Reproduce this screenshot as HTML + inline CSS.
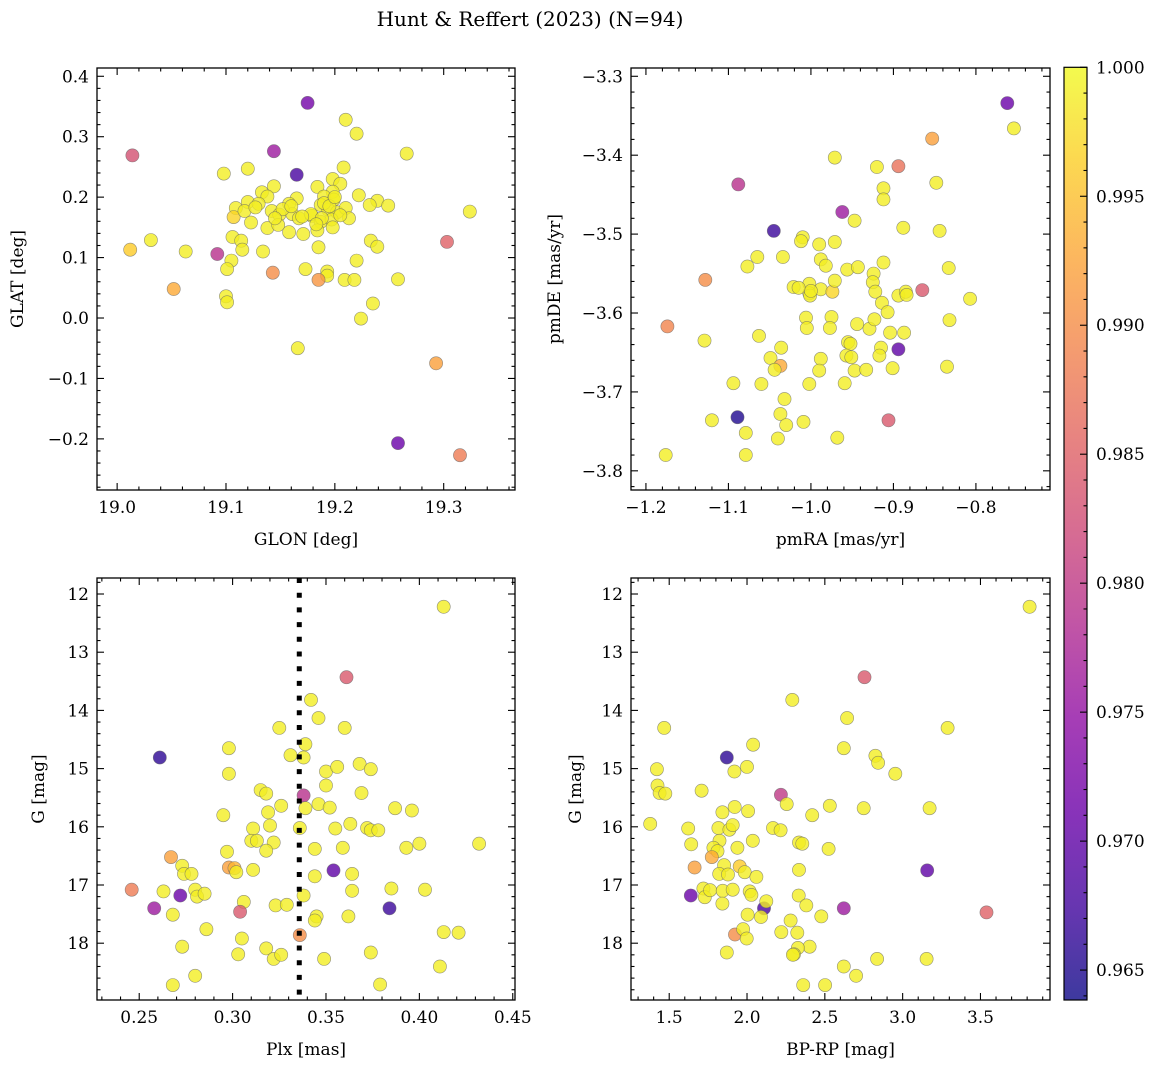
<!DOCTYPE html>
<html><head><meta charset="utf-8"><style>
html,body{margin:0;padding:0;background:#fff;}
svg{display:block;font-family:"DejaVu Serif","Liberation Serif",serif;}
</style></head><body>
<svg id="fig" width="1161" height="1067" viewBox="0 0 1161 1067" xmlns="http://www.w3.org/2000/svg">
<defs>
<linearGradient id="plasmaGrad" x1="0" y1="1" x2="0" y2="0">
<stop offset="0" stop-color="#0d0887"/><stop offset="0.1" stop-color="#41049d"/><stop offset="0.2" stop-color="#6a00a8"/><stop offset="0.3" stop-color="#8f0da4"/><stop offset="0.4" stop-color="#b12a90"/><stop offset="0.5" stop-color="#cc4778"/><stop offset="0.6" stop-color="#e16462"/><stop offset="0.7" stop-color="#f2844b"/><stop offset="0.8" stop-color="#fca636"/><stop offset="0.9" stop-color="#fcce25"/><stop offset="1" stop-color="#f0f921"/>
</linearGradient>
</defs>
<text x="530" y="26" font-size="20" text-anchor="middle">Hunt &amp; Reffert (2023) (N=94)</text>
</svg>
<script>
// ---- Panel 1: GLON / GLAT ----
const glon = [19.175,19.210,19.220,19.266,19.014,19.144,19.165,19.098,19.120,19.208,19.198,19.205,19.184,19.144,19.133,19.138,19.222,19.198,19.190,19.165,19.239,19.232,19.249,19.324,19.120,19.109,19.130,19.158,19.142,19.149,19.161,19.167,19.187,19.199,19.194,19.202,19.210,19.213,19.179,19.187,19.197,19.107,19.117,19.123,19.138,19.148,19.158,19.171,19.184,19.198,19.106,19.114,19.115,19.031,19.012,19.063,19.092,19.134,19.185,19.233,19.239,19.303,19.105,19.101,19.220,19.143,19.173,19.193,19.193,19.185,19.209,19.218,19.258,19.052,19.100,19.101,19.235,19.224,19.166,19.293,19.258,19.315,19.190,19.195,19.178,19.170,19.152,19.205,19.188,19.160,19.200,19.127,19.145,19.183];
const glat = [0.356,0.328,0.305,0.272,0.269,0.276,0.237,0.239,0.247,0.249,0.230,0.222,0.217,0.218,0.208,0.201,0.203,0.209,0.201,0.198,0.194,0.187,0.186,0.176,0.192,0.182,0.189,0.189,0.177,0.171,0.172,0.165,0.187,0.196,0.179,0.175,0.182,0.165,0.169,0.159,0.163,0.167,0.177,0.158,0.149,0.154,0.142,0.139,0.145,0.150,0.134,0.128,0.113,0.129,0.113,0.110,0.106,0.110,0.117,0.128,0.118,0.126,0.095,0.081,0.095,0.075,0.081,0.077,0.070,0.063,0.063,0.063,0.064,0.048,0.036,0.026,0.024,-0.001,-0.050,-0.075,-0.207,-0.227,0.190,0.185,0.172,0.168,0.180,0.170,0.165,0.185,0.200,0.183,0.165,0.155];
const prob1 = [0.972,0.999,0.999,0.999,0.983,0.976,0.968,0.999,0.999,0.999,0.999,0.999,0.999,0.999,0.999,0.999,0.999,0.999,0.999,0.999,0.999,0.999,0.999,0.999,0.999,0.999,0.999,0.999,0.999,0.999,0.999,0.999,0.999,0.999,0.999,0.999,0.999,0.999,0.999,0.999,0.999,0.997,0.999,0.999,0.999,0.999,0.999,0.999,0.999,0.999,0.999,0.999,0.999,0.999,0.996,0.999,0.979,0.999,0.999,0.999,0.999,0.985,0.999,0.999,0.999,0.990,0.999,0.999,0.999,0.991,0.999,0.999,0.999,0.993,0.999,0.999,0.999,0.999,0.999,0.992,0.971,0.988,0.999,0.999,0.999,0.999,0.999,0.999,0.999,0.999,0.999,0.999,0.999,0.999];
// ---- Panel 2: pmRA / pmDE ----
const pmra = [-0.762,-0.754,-0.853,-0.971,-0.920,-0.894,-0.848,-1.088,-0.912,-0.912,-0.962,-0.947,-0.888,-0.844,-1.045,-1.010,-1.012,-0.990,-0.971,-1.065,-1.077,-1.034,-0.988,-0.982,-0.956,-0.943,-0.912,-0.833,-1.128,-1.021,-1.002,-1.002,-1.001,-0.988,-0.974,-0.971,-0.924,-0.925,-0.922,-0.894,-0.885,-0.884,-0.865,-0.807,-0.914,-0.907,-1.174,-1.129,-1.063,-1.006,-1.005,-0.975,-0.977,-0.944,-0.929,-0.923,-0.904,-0.887,-0.832,-1.036,-1.049,-1.037,-1.044,-0.988,-0.990,-0.955,-0.952,-0.957,-0.951,-0.947,-0.933,-0.915,-0.917,-0.894,-0.901,-0.835,-1.094,-1.060,-1.002,-0.959,-1.032,-1.037,-1.030,-1.009,-1.089,-1.120,-0.906,-1.079,-1.040,-0.968,-1.176,-1.079,-1.000,-1.015];
const pmde = [-3.334,-3.366,-3.379,-3.403,-3.415,-3.414,-3.435,-3.437,-3.442,-3.456,-3.472,-3.483,-3.492,-3.496,-3.496,-3.504,-3.509,-3.513,-3.510,-3.529,-3.541,-3.529,-3.532,-3.540,-3.545,-3.542,-3.536,-3.543,-3.558,-3.567,-3.563,-3.575,-3.578,-3.570,-3.573,-3.559,-3.550,-3.561,-3.573,-3.578,-3.573,-3.577,-3.571,-3.582,-3.587,-3.599,-3.617,-3.635,-3.629,-3.606,-3.619,-3.605,-3.619,-3.614,-3.620,-3.608,-3.625,-3.625,-3.609,-3.644,-3.657,-3.667,-3.672,-3.658,-3.673,-3.637,-3.639,-3.654,-3.656,-3.673,-3.672,-3.644,-3.654,-3.646,-3.670,-3.668,-3.689,-3.690,-3.690,-3.689,-3.709,-3.728,-3.742,-3.738,-3.732,-3.736,-3.736,-3.752,-3.759,-3.758,-3.780,-3.780,-3.572,-3.568];
const prob2 = [0.971,0.999,0.992,0.999,0.999,0.987,0.999,0.979,0.999,0.999,0.976,0.999,0.999,0.999,0.967,0.999,0.999,0.999,0.999,0.999,0.999,0.999,0.999,0.999,0.999,0.999,0.999,0.999,0.990,0.999,0.999,0.999,0.999,0.999,0.997,0.999,0.999,0.999,0.999,0.999,0.999,0.999,0.984,0.999,0.999,0.999,0.989,0.999,0.999,0.999,0.999,0.999,0.999,0.999,0.999,0.999,0.999,0.999,0.999,0.999,0.999,0.993,0.999,0.999,0.999,0.999,0.999,0.999,0.999,0.999,0.999,0.999,0.999,0.970,0.999,0.999,0.999,0.999,0.999,0.999,0.999,0.999,0.999,0.999,0.965,0.999,0.984,0.999,0.999,0.999,0.999,0.999,0.999,0.999];
// ---- Panel 3: Plx / G ----
const plx = [0.413,0.361,0.342,0.346,0.325,0.360,0.339,0.298,0.331,0.338,0.261,0.350,0.356,0.368,0.374,0.298,0.350,0.315,0.318,0.338,0.369,0.326,0.339,0.346,0.352,0.387,0.396,0.295,0.319,0.320,0.311,0.336,0.355,0.363,0.372,0.374,0.378,0.310,0.313,0.322,0.318,0.297,0.344,0.359,0.393,0.400,0.432,0.267,0.273,0.274,0.278,0.298,0.301,0.302,0.311,0.344,0.354,0.364,0.246,0.263,0.272,0.280,0.281,0.285,0.338,0.364,0.385,0.403,0.258,0.268,0.306,0.304,0.323,0.329,0.345,0.344,0.362,0.384,0.286,0.336,0.413,0.421,0.273,0.305,0.318,0.322,0.326,0.303,0.349,0.374,0.411,0.280,0.268,0.379];
const gmag3 = [12.22,13.43,13.82,14.13,14.30,14.30,14.58,14.65,14.77,14.81,14.81,15.05,14.97,14.92,15.01,15.09,15.29,15.37,15.43,15.46,15.42,15.64,15.68,15.61,15.67,15.68,15.72,15.80,15.75,15.98,16.03,16.02,16.03,15.95,16.02,16.06,16.06,16.24,16.24,16.27,16.41,16.43,16.38,16.36,16.36,16.29,16.29,16.52,16.67,16.81,16.81,16.70,16.71,16.78,16.74,16.85,16.75,16.81,17.08,17.11,17.18,17.08,17.20,17.15,17.18,17.10,17.06,17.08,17.40,17.51,17.29,17.46,17.35,17.34,17.54,17.61,17.54,17.40,17.76,17.86,17.81,17.82,18.06,17.92,18.09,18.27,18.20,18.19,18.27,18.16,18.40,18.56,18.72,18.71];
const prob3 = [0.999,0.984,0.999,0.999,0.999,0.999,0.999,0.999,0.999,0.999,0.966,0.999,0.999,0.999,0.999,0.999,0.999,0.999,0.999,0.979,0.999,0.999,0.999,0.999,0.999,0.999,0.999,0.999,0.999,0.999,0.999,0.999,0.999,0.999,0.999,0.999,0.999,0.999,0.999,0.999,0.999,0.999,0.999,0.999,0.999,0.999,0.999,0.992,0.999,0.999,0.999,0.992,0.994,0.999,0.999,0.999,0.970,0.999,0.988,0.999,0.971,0.999,0.999,0.999,0.999,0.999,0.999,0.999,0.976,0.999,0.999,0.984,0.999,0.999,0.999,0.999,0.999,0.967,0.999,0.990,0.999,0.999,0.999,0.999,0.999,0.999,0.999,0.999,0.999,0.999,0.999,0.999,0.999,0.999];
// ---- Panel 4: BP-RP / G ----
const bprp = [3.816,2.755,2.291,2.643,1.468,3.289,2.039,1.870,2.622,2.825,2.842,2.953,1.421,1.919,2.000,1.425,1.438,1.475,1.708,2.218,2.255,2.532,2.750,3.173,1.842,1.921,2.007,2.419,1.378,1.622,1.816,1.887,1.908,2.167,2.216,1.641,1.823,1.784,1.810,1.938,2.037,2.334,2.355,2.524,1.774,1.663,1.853,1.821,1.878,1.953,1.985,2.060,2.334,3.158,1.639,1.720,1.729,1.763,1.844,1.908,2.017,2.028,1.842,2.109,2.124,2.332,2.381,2.622,3.539,2.004,2.090,2.280,2.477,1.923,1.975,1.998,2.220,2.323,2.402,2.327,2.302,2.295,1.870,2.622,2.701,2.836,3.154,2.361,2.502];
const gmag4 = [12.22,13.43,13.82,14.13,14.30,14.30,14.59,14.81,14.65,14.78,14.90,15.09,15.01,15.05,14.97,15.29,15.42,15.43,15.38,15.45,15.61,15.64,15.68,15.68,15.75,15.66,15.73,15.80,15.95,16.03,16.02,16.05,15.97,16.02,16.06,16.30,16.24,16.36,16.42,16.36,16.24,16.27,16.29,16.38,16.52,16.70,16.66,16.81,16.82,16.68,16.78,16.86,16.74,16.75,17.18,17.06,17.21,17.09,17.10,17.08,17.11,17.17,17.32,17.40,17.28,17.18,17.35,17.40,17.47,17.51,17.55,17.61,17.54,17.85,17.76,17.92,17.81,17.82,18.06,18.08,18.19,18.20,18.16,18.40,18.56,18.27,18.27,18.72,18.72];
const prob4 = [0.999,0.984,0.999,0.999,0.999,0.999,0.999,0.966,0.999,0.999,0.999,0.999,0.999,0.999,0.999,0.999,0.999,0.999,0.999,0.980,0.999,0.999,0.999,0.999,0.999,0.999,0.999,0.999,0.999,0.999,0.999,0.999,0.999,0.999,0.999,0.999,0.999,0.999,0.999,0.999,0.999,0.999,0.999,0.999,0.993,0.992,0.999,0.999,0.999,0.996,0.999,0.999,0.999,0.970,0.971,0.999,0.999,0.999,0.999,0.999,0.999,0.999,0.999,0.968,0.999,0.999,0.999,0.976,0.985,0.999,0.999,0.999,0.999,0.990,0.999,0.999,0.999,0.999,0.999,0.999,0.999,0.999,0.999,0.999,0.999,0.999,0.999,0.999,0.999];
// ---- tick labels ----
const ticks1x = [19.0,19.1,19.2,19.3];
const ticks1y = [0.4,0.3,0.2,0.1,0.0,-0.1,-0.2];
const ticks2x = [-1.2,-1.1,-1.0,-0.9,-0.8];
const ticks2y = [-3.3,-3.4,-3.5,-3.6,-3.7,-3.8];
const ticks3x = [0.25,0.30,0.35,0.40,0.45];
const ticksG = [12,13,14,15,16,17,18];
const ticks4x = [1.5,2.0,2.5,3.0,3.5];
const ticksCbar = [1.000,0.995,0.990,0.985,0.980,0.975,0.970,0.965];
const plxRef = [0.3357];

const VMIN=0.96384, VMAX=1.0;
const stops=["#0d0887","#41049d","#6a00a8","#8f0da4","#b12a90","#cc4778","#e16462","#f2844b","#fca636","#fcce25","#f0f921"];
function hex(h){return [parseInt(h.substr(1,2),16),parseInt(h.substr(3,2),16),parseInt(h.substr(5,2),16)];}
function plasma(v){let t=(v-VMIN)/(VMAX-VMIN);t=Math.max(0,Math.min(1,t));const f=t*10;const i=Math.min(9,Math.floor(f));const a=hex(stops[i]),b=hex(stops[i+1]);const u=f-i;return `rgb(${a.map((c,k)=>Math.round(c+(b[k]-c)*u)).join(',')})`;}
const NS="http://www.w3.org/2000/svg";
const svg=document.getElementById('fig');
function mk(tag,attrs,parent){const e=document.createElementNS(NS,tag);for(const k in attrs)e.setAttribute(k,attrs[k]);(parent||svg).appendChild(e);return e;}
function fmt(v,d){return (v<0?'\u2212':'')+Math.abs(v).toFixed(d);}

function panel(cfg){
  const g=mk('g',{});
  
  
  const X=v=>cfg.x0+(v-cfg.dx[0])/(cfg.dx[1]-cfg.dx[0])*(cfg.x1-cfg.x0);
  const Y=v=>cfg.y0+(v-cfg.dy[0])/(cfg.dy[1]-cfg.dy[0])*(cfg.y1-cfg.y0);
  const pg=mk('g',{},g);
  
  
  for(let i=0;i<cfg.xs.length;i++){
    const c=mk('circle',{cx:X(cfg.xs[i]).toFixed(1),cy:Y(cfg.ys[i]).toFixed(1),r:6.6,fill:plasma(cfg.ps[i]),'fill-opacity':0.8,stroke:'#666','stroke-opacity':0.7,'stroke-width':0.6},pg);
    
    
  }
  if(cfg.vline){for(const v of cfg.vline){const l=mk('line',{x1:X(v),x2:X(v),y1:cfg.y0,y2:cfg.y1,stroke:'#000','stroke-width':5,'stroke-dasharray':'5 9.7'},g);
    
    }}
  const fr=mk('rect',{x:cfg.x0,y:cfg.y0,width:cfg.x1-cfg.x0,height:cfg.y1-cfg.y0,fill:'none',stroke:'#000','stroke-width':1.3},g);
  
  
  const tg=mk('g',{stroke:'#000','stroke-width':1.1},g);
  const lo=Math.min(...cfg.dx),hi=Math.max(...cfg.dx);
  for(let k=Math.ceil(lo/cfg.mx-1e-6);k*cfg.mx<=hi+1e-9;k++){const v=k*cfg.mx;const px=X(v);const maj=Math.abs(v/cfg.Mx-Math.round(v/cfg.Mx))<1e-6;const L=maj?7:3.5;
    mk('line',{x1:px,x2:px,y1:cfg.y1,y2:cfg.y1-L},tg);mk('line',{x1:px,x2:px,y1:cfg.y0,y2:cfg.y0+L},tg);}
  const ylo=Math.min(...cfg.dy),yhi=Math.max(...cfg.dy);
  for(let k=Math.ceil(ylo/cfg.my-1e-6);k*cfg.my<=yhi+1e-9;k++){const v=k*cfg.my;const py=Y(v);const maj=Math.abs(v/cfg.My-Math.round(v/cfg.My))<1e-6;const L=maj?7:3.5;
    mk('line',{x1:cfg.x0,x2:cfg.x0+L,y1:py,y2:py},tg);mk('line',{x1:cfg.x1,x2:cfg.x1-L,y1:py,y2:py},tg);}
  for(const v of cfg.tx){const t=mk('text',{x:X(v),y:cfg.y1+23,'font-size':17,'text-anchor':'middle'},g);t.textContent=fmt(v,cfg.dxd);
    }
  for(const v of cfg.ty){const t=mk('text',{x:cfg.x0-8,y:Y(v)+6,'font-size':17,'text-anchor':'end'},g);t.textContent=fmt(v,cfg.dyd);
    }
  const xl=mk('text',{x:(cfg.x0+cfg.x1)/2,y:cfg.y1+55,'font-size':17,'text-anchor':'middle'},g);xl.textContent=cfg.xlabel;
  
  const yx=cfg.ylx, yy=(cfg.y0+cfg.y1)/2;
  const yl=mk('text',{x:yx,y:yy,'font-size':17,'text-anchor':'middle',transform:`rotate(-90 ${yx} ${yy})`},g);yl.textContent=cfg.ylabel;
  
}
panel({name:'glon-glat-panel',x0:97,x1:515,y0:68,y1:490,dx:[18.9815,19.3655],dy:[0.4137,-0.2846],xs:glon,ys:glat,ps:prob1,Mx:0.1,mx:0.02,My:0.1,my:0.02,tx:ticks1x,ty:ticks1y,dxd:1,dyd:1,xlabel:'GLON [deg]',ylabel:'GLAT [deg]',ylx:23});
panel({name:'pm-panel',x0:631,x1:1050,y0:68,y1:490,dx:[-1.2181,-0.7102],dy:[-3.2895,-3.8243],xs:pmra,ys:pmde,ps:prob2,Mx:0.1,mx:0.02,My:0.1,my:0.02,tx:ticks2x,ty:ticks2y,dxd:1,dyd:1,xlabel:'pmRA [mas/yr]',ylabel:'pmDE [mas/yr]',ylx:560});
panel({name:'plx-g-panel',x0:97,x1:515,y0:578,y1:1000,dx:[0.2274,0.4512],dy:[11.725,18.976],xs:plx,ys:gmag3,ps:prob3,Mx:0.05,mx:0.01,My:1,my:0.2,tx:ticks3x,ty:ticksG,dxd:2,dyd:0,xlabel:'Plx [mas]',ylabel:'G [mag]',ylx:44,vline:plxRef});
panel({name:'cmd-panel',x0:631,x1:1050,y0:578,y1:1000,dx:[1.2545,3.9468],dy:[11.725,18.976],xs:bprp,ys:gmag4,ps:prob4,Mx:0.5,mx:0.1,My:1,my:0.2,tx:ticks4x,ty:ticksG,dxd:1,dyd:0,xlabel:'BP-RP [mag]',ylabel:'G [mag]',ylx:581});

const cb=mk('g',{});


const cbT=67.3,cbB=1000,cbL=1064,cbR=1087;
const CY=v=>cbB-(v-VMIN)/(VMAX-VMIN)*(cbB-cbT);
mk('rect',{x:cbL,y:cbT,width:cbR-cbL,height:cbB-cbT,fill:'url(#plasmaGrad)','fill-opacity':0.8},cb);
mk('rect',{x:cbL,y:cbT,width:cbR-cbL,height:cbB-cbT,fill:'none',stroke:'#000','stroke-width':1.2},cb);
for(let k=964;k<=1000;k++){const v=k/1000;const py=CY(v);const maj=k%5===0;mk('line',{x1:cbR,x2:cbR-(maj?7:3.5),y1:py,y2:py,stroke:'#000','stroke-width':1.1},cb);}
for(const v of ticksCbar){const t=mk('text',{x:cbR+9,y:CY(v)+6,'font-size':17},cb);t.textContent=v.toFixed(3);
  }
</script>
</body></html>
